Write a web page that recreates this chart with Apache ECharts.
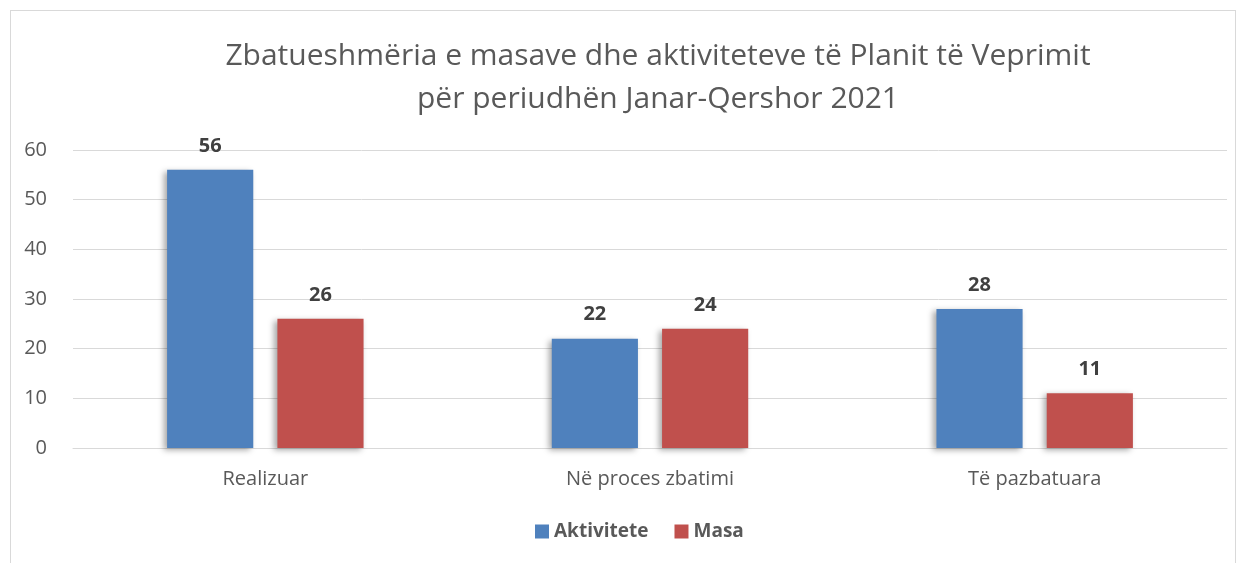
<!DOCTYPE html>
<html>
<head>
<meta charset="utf-8">
<script src="https://cdn.jsdelivr.net/npm/echarts@6/dist/echarts.min.js"></script>
<style>
html,body{margin:0;padding:0;background:#fff;}
#frame{position:absolute;left:10px;top:10px;width:1226px;height:560px;border:1px solid #d9d9d9;box-sizing:border-box;}
#chart{position:absolute;left:0;top:0;width:1246px;height:563px;}
</style>
</head>
<body>
<div id="frame"></div>
<div id="chart"></div>
<script>
// te dhenat
var categories = ['Realizuar', 'Në proces zbatimi', 'Të pazbatuara'];
var aktivitete = [56, 22, 28];
var masa = [26, 24, 11];
var yTicks = [0, 10, 20, 30, 40, 50, 60];

var fontFam = '"Open Sans", sans-serif';
var barShadow = {shadowColor: 'rgba(0,0,0,0.35)', shadowBlur: 6, shadowOffsetX: -3, shadowOffsetY: 2};

var myChart = echarts.init(document.getElementById('chart'));
var option = {
	animation: false,
	title: {
		text: 'Zbatueshmëria e masave dhe aktiviteteve të Planit të Veprimit\npër periudhën Janar-Qershor 2021',
		left: 653,
		textAlign: 'center',
		top: 30,
		textStyle: {
			fontFamily: fontFam,
			fontWeight: 'normal',
			fontSize: 30,
			color: '#595959',
			lineHeight: 43
		}
	},
	legend: {
		bottom: 17,
		left: 530,
		itemWidth: 14,
		itemHeight: 14,
		itemGap: 26,
		icon: 'rect',
		textStyle: {fontFamily: fontFam, fontWeight: 'bold', fontSize: 19, color: '#595959'},
		data: ['Aktivitete', 'Masa']
	},
	grid: {left: 73, right: 19, top: 150, bottom: 115},
	xAxis: {
		type: 'category',
		data: categories,
		axisTick: {show: false},
		axisLine: {lineStyle: {color: '#d9d9d9', width: 1}},
		axisLabel: {fontFamily: fontFam, fontSize: 20, color: '#595959', margin: 21}
	},
	yAxis: {
		type: 'value',
		min: yTicks[0],
		max: yTicks[yTicks.length - 1],
		interval: 10,
		axisLine: {show: false},
		axisTick: {show: false},
		splitLine: {lineStyle: {color: '#d9d9d9', width: 1}},
		axisLabel: {fontFamily: fontFam, fontSize: 20, color: '#595959', margin: 26}
	},
	series: [{
		name: 'Aktivitete',
		type: 'bar',
		data: aktivitete,
		barWidth: '22.4%',
		barGap: '28%',
		itemStyle: Object.assign({color: '#4f81bd'}, barShadow),
		label: {show: true, position: 'top', distance: 14, fontFamily: fontFam, fontWeight: 'bold', fontSize: 20, color: '#404040'}
	}, {
		name: 'Masa',
		type: 'bar',
		data: masa,
		barWidth: '22.4%',
		itemStyle: Object.assign({color: '#c0504d'}, barShadow),
		label: {show: true, position: 'top', distance: 14, fontFamily: fontFam, fontWeight: 'bold', fontSize: 20, color: '#404040'}
	}]
};
myChart.setOption(option);
</script>
</body>
</html>
